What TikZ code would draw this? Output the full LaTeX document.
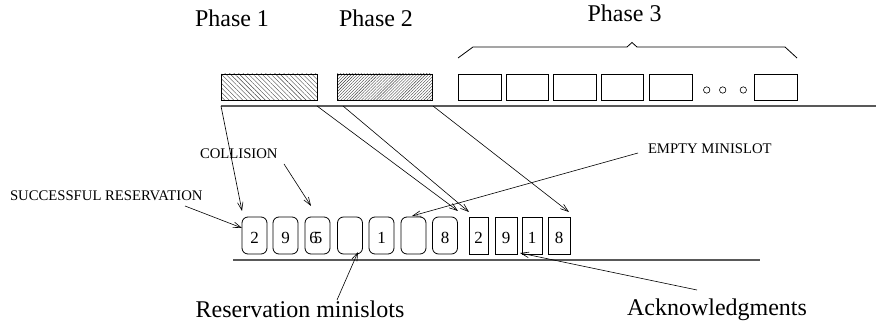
\documentclass[tikz,border=0pt]{standalone}
\usepackage{fontspec}
\setmainfont{Liberation Serif}
\usetikzlibrary{arrows.meta,patterns.meta}

\begin{document}
\begin{tikzpicture}[x=1pt,y=-1pt,
  every node/.style={inner sep=0pt,outer sep=0pt},
  frame/.style={draw,line width=0.8pt},
  minislot/.style={draw,line width=0.8pt,rounded corners=6pt,minimum width=25pt,
    minimum height=37pt,text height=15.6pt,text depth=0pt,font=\fontsize{17}{20}\selectfont},
  ackslot/.style={draw,line width=0.8pt,minimum height=37pt,
    text height=15.6pt,text depth=0pt,font=\fontsize{17}{20}\selectfont},
  ptr/.style={line width=0.6pt,-{Straight Barb[length=8pt,width=5.5pt,line width=0.6pt]}},
  bigtext/.style={font=\fontsize{24}{28}\selectfont,anchor=base},
  smalltext/.style={font=\fontsize{14.7}{17}\selectfont,anchor=base west},
  axis/.style={line width=1.3pt,black!65}]
\useasboundingbox (0,0) rectangle (876,328);

% phase titles
\node[bigtext] (ph1) at (232,27) {Phase 1};
\node[bigtext] (ph2) at (376,27) {Phase 2};
\node[bigtext] (ph3) at (624.5,21.7) {Phase 3};

% brace over the phase 3 slots
\draw[line width=0.8pt] (458,58) -- (473,47) -- (627,47) -- (632,42.5)
  -- (637,47) -- (785,47) -- (797,58);

% upstream frame
\node[frame,minimum width=96pt,minimum height=26pt,
  pattern={Lines[angle=-45,distance=3.2pt,line width=0.4pt]},pattern color=black!75]
  (p1) at (269,87) {};
\node[frame,minimum width=95pt,minimum height=26pt,
  pattern={Lines[angle=45,distance=2.1pt,line width=0.4pt]},pattern color=black!75]
  (p2) at (384.5,87) {};
\foreach \cx/\w [count=\i] in {479.5/43,527/42,574.5/43,622/42,670.5/43,775.5/43}
  \node[frame,minimum width=\w pt,minimum height=26pt] (d\i) at (\cx,87) {};
\foreach \cx [count=\i] in {706.7,722.7,743.3}
  \draw[line width=0.6pt] (\cx,90) circle (3.2pt);
\draw[axis] (221,106) -- (876,106);

% downstream frame: reservation minislots and acknowledgments
\node[minislot] (r1) at (254.5,235.5) {2};
\node[minislot] (r2) at (285.5,235.5) {9};
\node[minislot] (r3) at (317.5,235.5) {\makebox[0pt]{\kern-8pt 6}\makebox[0pt]{\kern1pt 5}};
\node[minislot] (r4) at (350,235.5) {};
\node[minislot] (r5) at (381.5,235.5) {1};
\node[minislot] (r6) at (413.5,235.5) {};
\node[minislot] (r7) at (445,235.5) {8};
\node[ackslot,minimum width=19pt] (a1) at (478.5,235.5) {2};
\node[ackslot,minimum width=22pt] (a2) at (506,235.5) {9};
\node[ackslot,minimum width=20pt] (a3) at (532,235.5) {1};
\node[ackslot,minimum width=22pt] (a4) at (559,235.5) {8};
\draw[axis] (233,260) -- (760,260);

% labels
\node[smalltext] (succ) at (10,201) {SUCCESSFUL RESERVATION};
\node[smalltext] (coll) at (200,158.5) {COLLISION};
\node[smalltext] (empty) at (648,153.3) {EMPTY MINISLOT};
\node[bigtext] (resv) at (300,318) {Reservation minislots};
\node[bigtext] (ack) at (717,316) {Acknowledgments};

% arrow end points
\coordinate (s1) at (221,106);
\coordinate (s2) at (317,106);
\coordinate (s3) at (343,106);
\coordinate (s4) at (433,106);
\coordinate (e1) at (242,211);
\coordinate (e2) at (458,211);
\coordinate (e3) at (469,212);
\coordinate (e4) at (569,212);
\coordinate (succT) at (185,206);
\coordinate (succH) at (242,228);
\coordinate (collT) at (284,164);
\coordinate (collH) at (311,206);
\coordinate (emptyT) at (638,153);
\coordinate (emptyH) at (412,216);
\coordinate (resvT) at (337,300);
\coordinate (resvH) at (358,252);
\coordinate (ackT) at (697,290);
\coordinate (ackH) at (520,253);

% mapping arrows
\draw[ptr] (s1) -- (e1);
\draw[ptr] (s2) -- (e2);
\draw[ptr] (s3) -- (e3);
\draw[ptr] (s4) -- (e4);
\draw[ptr] (succT) -- (succH);
\draw[ptr] (collT) -- (collH);
\draw[ptr] (emptyT) -- (emptyH);
\draw[ptr] (resvT) -- (resvH);
\draw[ptr] (ackT) -- (ackH);
\end{tikzpicture}
\end{document}
